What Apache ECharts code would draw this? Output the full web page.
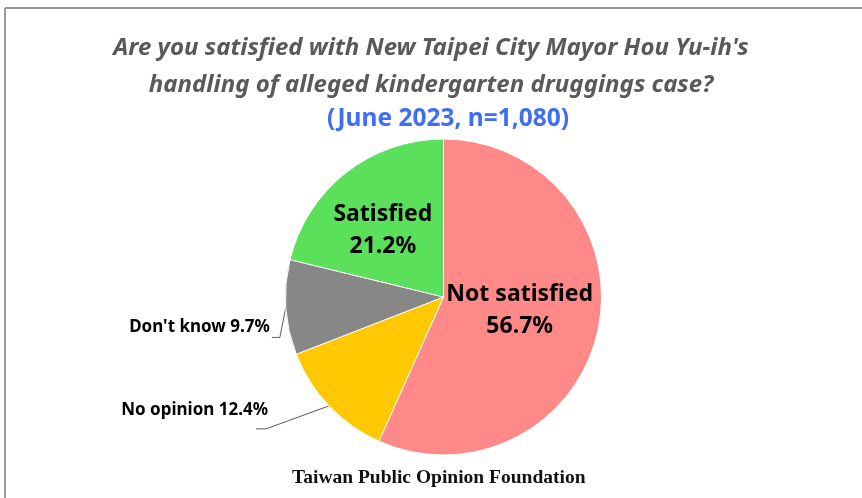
<!DOCTYPE html>
<html>
<head>
<meta charset="utf-8">
<script src="https://cdn.jsdelivr.net/npm/echarts@6/dist/echarts.min.js"></script>
<style>html,body{margin:0;padding:0;background:#fff;}#c{width:862px;height:498px;}</style>
</head>
<body>
<div id="c"></div>
<script>
const titleLines = ["Are you satisfied with New Taipei City Mayor Hou Yu-ih's", "handling of alleged kindergarten druggings case?"];
const subtitle = "(June 2023, n=1,080)";
const source = "Taiwan Public Opinion Foundation";
const categories = ["Not satisfied", "No opinion", "Don't know", "Satisfied"];
const values = [56.7, 12.4, 9.7, 21.2];
const colors = ["#FF8888", "#FFC800", "#878787", "#5AE05A"];
const insideLabel = [true, false, false, true];

const chart = echarts.init(document.getElementById('c'), null, {renderer: 'canvas'});
const data = categories.map((name, i) => {
  const item = {name: name, value: values[i], itemStyle: {color: colors[i]}};
  if (insideLabel[i]) {
    item.label = {
      position: 'inside',
      formatter: '{b}\n{c}%',
      fontSize: 23, fontWeight: 'bold', color: '#000', lineHeight: 32,
      fontFamily: 'Noto Sans',
      padding: i === 3 ? [0, 20, 0, 0] : [0, 8, 0, 0]
    };
  } else {
    item.label = {
      position: 'outside',
      formatter: '{b} {c}%',
      fontSize: 17, fontWeight: 'bold', color: '#000',
      fontFamily: 'Noto Sans'
    };
    item.labelLine = {show: true, length: 10, length2: 10,
                      lineStyle: {color: '#595959', width: 1}};
  }
  return item;
});

chart.setOption({
  animation: false,
  backgroundColor: '#fff',
  title: [
    {text: titleLines.join('\n'), left: 'center', top: 25,
     textStyle: {fontSize: 24, fontStyle: 'italic', fontWeight: 'bold', color: '#595959', lineHeight: 37, fontFamily: 'Noto Sans'}},
    {text: subtitle, left: 322, top: 102,
     textStyle: {fontSize: 24.5, fontWeight: 'bold', color: '#3D6EF5', fontFamily: 'Noto Sans'}},
    {text: source, left: 287, top: 463,
     textStyle: {fontSize: 19.5, fontWeight: 'bold', color: '#111', fontFamily: 'Liberation Serif'}}
  ],
  graphic: [
    {type: 'line', shape: {x1: 5, y1: 8, x2: 862, y2: 8}, style: {stroke: '#999', lineWidth: 2}},
    {type: 'line', shape: {x1: 5, y1: 8, x2: 5, y2: 498}, style: {stroke: '#999', lineWidth: 2}}
  ],
  series: [{
    type: 'pie',
    center: [443.5, 297],
    radius: 158,
    startAngle: 90,
    clockwise: true,
    avoidLabelOverlap: false,
    itemStyle: {borderColor: '#fff', borderWidth: 1},
    emphasis: {disabled: true},
    labelLayout: function (p) {
      if (insideLabel[p.dataIndex]) { return {dy: p.dataIndex === 0 ? -4 : -2}; }
      const pts = p.labelLinePoints;
      if (!pts) { return {}; }
      const a = pts[0];
      let b, c, x, y;
      if (p.dataIndex === 2) {
        b = [a[0] - 6, a[1] + 30];
        c = [b[0] - 8, b[1]];
        x = c[0] - 2; y = c[1] - 10;
      } else {
        b = [a[0] - 63, a[1] + 23];
        c = [b[0] - 10, b[1]];
        x = b[0] + 2; y = b[1] - 19;
      }
      return {x: x, y: y, align: 'right', verticalAlign: 'middle', labelLinePoints: [a, b, c]};
    },
    data: data
  }]
});
</script>
</body>
</html>
